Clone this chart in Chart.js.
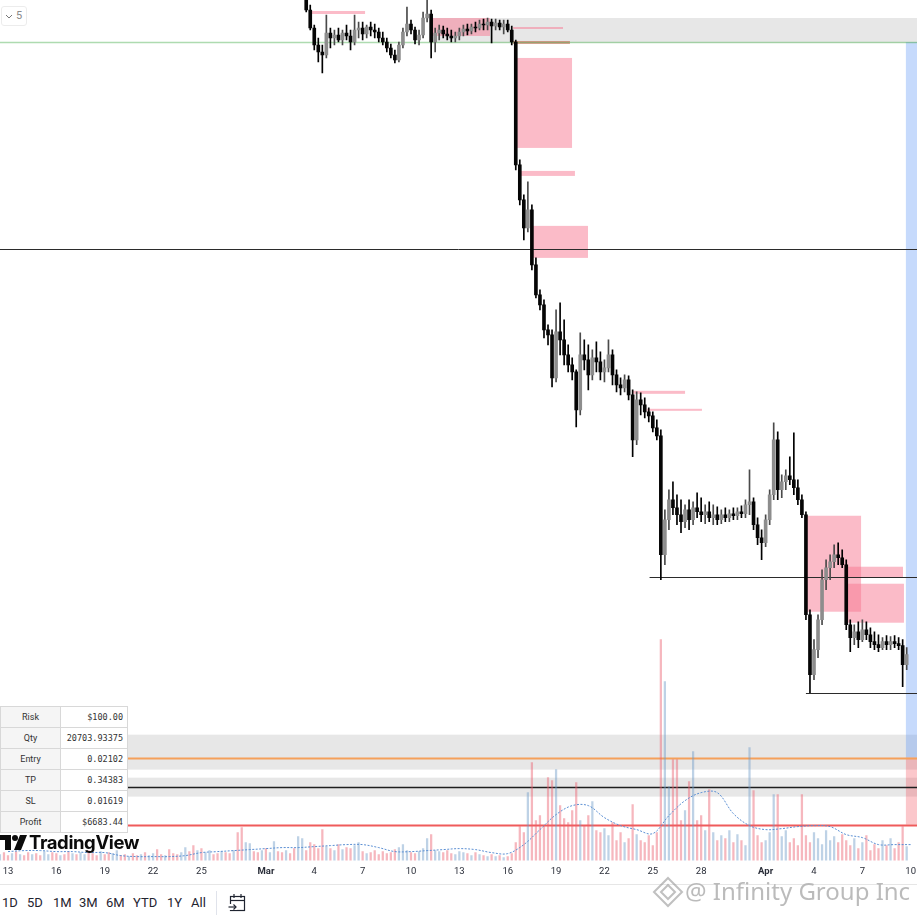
<!DOCTYPE html>
<html lang="en">
<head>
<meta charset="UTF-8">
<title>Chart</title>
<style>
    body {
        margin: 0;
        background: #fff;
        font-family: Roboto, Arial, sans-serif;
    }
    #wrap {
        position: relative;
        width: 917px;
        height: 917px;
        overflow: hidden;
    }
    #chartBox {
        position: absolute;
        left: 0;
        top: 0;
        width: 917px;
        height: 882px;
    }
    #interval {
        position: absolute;
        left: 1px;
        top: 6px;
        width: 24px;
        height: 18px;
        border: 1px solid #ececec;
        border-radius: 3px;
        font-size: 11px;
        color: #8a8a8a;
        background: #fff;
    }
    #interval span { position: absolute; left: 14px; top: 2px; }
    #interval svg { position: absolute; left: 3px; top: 7px; }
    #info {
        position: absolute;
        left: 0;
        top: 706px;
        border-collapse: collapse;
        background: #fff;
    }
    #info td {
        height: 20px;
        padding: 0 4px;
        border: 1px solid #d8d8d8;
        font-size: 9px;
        color: #333;
    }
    #info td.k { width: 51px; text-align: center; background: #f5f5f5; }
    #info td.v { width: 58px; text-align: right; font-family: "DejaVu Sans Mono", monospace; font-size: 8.5px; }
    #tvlogo {
        position: absolute;
        left: 0;
        top: 831px;
        height: 22px;
        background: rgba(255,255,255,0.7);
    }
    #tvlogo svg { position: absolute; left: 0; top: 4px; }
    #tvlogo span {
        position: absolute;
        left: 29px;
        top: 0;
        font-family: Inter, Lato, sans-serif;
        font-weight: 700;
        font-size: 18.5px;
        letter-spacing: -0.4px;
        color: #0b0b0b;
        white-space: nowrap;
    }
    #toolbar {
        position: absolute;
        left: 0;
        top: 884px;
        width: 917px;
        height: 33px;
        border-top: 1px solid #e6e6e6;
        background: #fff;
    }
    #toolbar span {
        position: absolute;
        top: 10px;
        font-size: 13px;
        color: #1f2430;
    }
    #toolbar .sep { position: absolute; left: 216px; top: 6px; width: 1px; height: 24px; background: #e0e3eb; }
    #toolbar svg { position: absolute; left: 228px; top: 8px; }
    #mark {
        position: absolute;
        left: 652px;
        top: 874px;
        height: 36px;
        white-space: nowrap;
    }
    #mark svg { position: absolute; left: 0; top: 2px; }
    #mark span {
        position: absolute;
        left: 33px;
        top: 0;
        font-family: "Noto Sans", sans-serif;
        font-size: 24px;
        color: rgba(120,120,120,0.5);
        text-shadow: 0 0 1px rgba(255,255,255,0.9);
    }
</style>
</head>
<body>
<div id="wrap">
    <div id="chartBox"><canvas id="chart"></canvas></div>

    <div id="interval">
        <svg width="8" height="5"><polyline points="1,1 4,4 7,1" fill="none" stroke="#777" stroke-width="1"/></svg>
        <span>5</span>
    </div>

    <table id="info">
        <tr><td class="k">Risk</td><td class="v">$100.00</td></tr>
        <tr><td class="k">Qty</td><td class="v">20703.93375</td></tr>
        <tr><td class="k">Entry</td><td class="v">0.02102</td></tr>
        <tr><td class="k">TP</td><td class="v">0.34383</td></tr>
        <tr><td class="k">SL</td><td class="v">0.01619</td></tr>
        <tr><td class="k">Profit</td><td class="v">$6683.44</td></tr>
    </table>

    <div id="tvlogo">
        <svg width="28" height="15" viewBox="0 0 28 15">
            <path d="M0 0 H11 V15 H5 V5 H0 Z" fill="#0b0b0b"/>
            <circle cx="15" cy="3" r="3" fill="#0b0b0b"/>
            <path d="M20 0 H27 L21 15 H14 Z" fill="#0b0b0b"/>
        </svg>
        <span>TradingView</span>
    </div>

    <div id="toolbar">
        <span style="left:2px">1D</span>
        <span style="left:27px">5D</span>
        <span style="left:53px">1M</span>
        <span style="left:79px">3M</span>
        <span style="left:106px">6M</span>
        <span style="left:133px">YTD</span>
        <span style="left:167px">1Y</span>
        <span style="left:191px">All</span>
        <div class="sep"></div>
        <svg width="18" height="20" viewBox="0 0 18 20">
            <rect x="2.5" y="3.5" width="14" height="14" fill="none" stroke="#1f2430" stroke-width="1.2"/>
            <line x1="2.5" y1="7.5" x2="16.5" y2="7.5" stroke="#1f2430" stroke-width="1.2"/>
            <line x1="6" y1="1" x2="6" y2="5" stroke="#1f2430" stroke-width="1.2"/>
            <line x1="13" y1="1" x2="13" y2="5" stroke="#1f2430" stroke-width="1.2"/>
            <rect x="0" y="11" width="9" height="6" fill="#fff"/>
            <line x1="0.5" y1="14" x2="8" y2="14" stroke="#1f2430" stroke-width="1.2"/>
            <polyline points="5.5,11.5 8,14 5.5,16.5" fill="none" stroke="#1f2430" stroke-width="1.2"/>
        </svg>
    </div>

    <div id="mark">
        <svg width="32" height="32" viewBox="0 0 32 32">
            <g fill="none" stroke="rgba(140,140,140,0.55)" stroke-width="2">
                <path d="M16 2 L30 16 L16 30 L2 16 Z"/>
                <path d="M16 9 L23 16 L16 23 L9 16 Z"/>
            </g>
        </svg>
        <span>@ Infinity Group Inc</span>
    </div>
</div>

<script src="https://cdn.jsdelivr.net/npm/chart.js@4"></script>
<script>
    // time axis: days counted from Feb 13
    const tickDays   = [0, 3, 6, 9, 12, 16, 19, 22, 25, 28, 31, 34, 37, 40, 43, 47, 50, 53, 56];
    const tickLabels = ['13', '16', '19', '22', '25', 'Mar', '4', '7', '10', '13', '16', '19', '22', '25', '28', 'Apr', '4', '7', '10'];
    const monthLabels = ['Mar', 'Apr'];

    const barsPerDay = 4;        // 6h candles
    const candleStartDay = 18.5; // first visible candle
    const volStartDay = -0.5;

    // price in 1/10000 units (no price axis is shown)
    const open = [
        910,890,872,855,848,845,867,862,865,860, 867,864,858,870,872,866,873,870,868,862,
        858,852,845,840,855,868,876,870,860,865, 882,886,858,867,870,866,864,862,864,868,
        871,869,873,872,876,875,878,874,877,873, 876,870,858,735,700,672,690,635,605,595,
        570,565,522,568,560,545,535,528,490,545, 540,525,542,538,528,532,545,525,515,512,
        520,505,460,500,495,488,484,472,464,345, 380,400,392,385,378,390,380,392,388,385,
        388,382,385,380,385,382,386,384,388,386, 395,398,375,362,357,380,405,460,410,418,
        424,420,412,400,385,285,225,250,280,320, 332,338,345,342,335,275,262,268,260,270,
        265,258,255,252,258,255,258,256,254,235
    ];
    const high = [
        920,895,875,862,855,885,872,870,872,870, 875,870,885,878,878,875,878,876,872,868,
        862,856,850,858,872,893,880,873,870,888, 900,890,872,875,874,872,870,868,872,875,
        876,876,878,880,881,882,881,881,880,880, 880,874,860,740,705,718,695,642,610,600,
        575,570,590,597,580,555,542,530,567,560, 555,550,558,548,540,560,550,530,522,525,
        524,510,508,507,502,492,488,480,470,390, 410,418,405,400,395,400,398,407,402,395,
        398,395,393,390,392,390,392,392,394,400, 430,402,382,370,385,410,477,468,425,430,
        443,467,420,405,388,290,260,285,330,340, 345,355,357,350,340,280,275,278,280,278,
        272,268,265,262,264,263,264,262,260,252
    ];
    const low = [
        888,870,850,838,827,842,852,855,858,855, 860,850,855,862,860,862,864,862,858,855,
        848,842,837,838,852,864,866,856,855,862, 878,842,848,860,862,860,858,858,860,864,
        865,866,868,870,870,870,857,870,870,866, 868,855,730,695,660,668,630,602,590,562,
        555,513,518,545,535,528,520,473,485,530, 510,520,528,520,518,528,515,508,505,508,
        500,443,455,485,482,478,468,460,320,335, 370,385,375,367,372,370,375,382,378,376,
        378,375,375,376,378,378,380,380,382,382, 385,370,355,340,353,375,400,400,402,410,
        415,405,395,382,280,207,220,242,275,310, 320,332,335,332,270,248,255,252,258,260,
        252,250,248,250,250,250,252,250,213,230
    ];
    const close = [
        890,872,855,848,845,867,862,865,860,867, 864,858,870,872,866,873,870,868,862,858,
        852,845,840,855,868,876,870,860,865,882, 886,858,867,870,866,864,862,864,868,871,
        869,873,872,876,875,878,874,877,873,876, 870,858,735,700,672,690,635,605,595,570,
        565,522,568,560,545,535,528,490,545,540, 525,542,538,528,532,545,525,515,512,520,
        505,460,500,495,488,484,472,464,345,380, 400,392,385,378,390,380,392,388,385,388,
        382,385,380,385,382,386,384,388,386,395, 398,375,362,357,380,405,460,410,418,424,
        420,412,400,385,285,225,250,280,320,332, 338,345,342,335,275,262,268,260,270,265,
        258,255,252,258,255,258,256,254,235,245
    ];

    // volume, 6h bars from Feb 12 12:00
    const volume = [
        6,8,5,7,9,6,5,8,6,7, 5,9,6,8,7,5,6,9,7,6, 8,6,10,7,5,9,6,8,7,10,
        5,6,4,7,5,6,8,5,7,11, 6,5,11,7,6,8,13,9,15,10, 12,8,10,6,7,9,8,7,10,28,
        33,18,17,9,8,10,12,8,19,9, 8,10,7,12,24,22,10,18,16,12, 31,14,12,10,16,11,13,12,15,18,
        9,7,8,10,6,9,7,8,11,13, 16,10,8,7,9,12,22,26,10,9, 8,10,7,6,9,8,7,5,8,6,
        5,4,6,4,5,3,4,7,18,34, 28,68,98,40,45,35,83,80,91,55, 42,38,50,78,40,35,45,59,30,28,
        32,25,38,20,28,18,22,56,26,20, 18,25,15,28,221,179,74,101,101,40, 50,79,109,40,45,30,71,28,20,25,
        22,30,18,26,20,15,113,70,25,18, 20,28,66,66,24,30,18,22,15,66, 25,18,28,22,16,30,20,24,18,26,
        20,15,22,12,18,25,10,16,12,20, 15,22,12,18,34,14
    ];
    // up/down side of the volume bars that have no visible candle
    const earlySide = ('uddududdud' + 'duudduddud' + 'uudddudduu' + 'ddudduduud' +
                       'duddduuddu' + 'duudduddud' + 'duudduduud' + 'dudduu').split('');
    // volume moving average, one value per day from day 0
    const volMA = [
        9,10,10,9,9,8,8,5,4,4, 4,5,8,9,10,11,12,13,13,14,
        15,16,16,13,9,9,10,11,12,11, 8,7,16,31,46,55,55,43,35,31,
        27,45,60,68,68,47,35,31,32,34, 35,34,26,23,16,16,16
    ];

    // drawings on the price pane: [fromDay, toDay, topPrice, bottomPrice]
    const zones = [
        [18.73, 22.15, 889, 886],
        [26.18, 29.90, 882, 864],
        [31.33, 34.43, 873, 871],
        [31.58, 34.99, 842, 752],
        [31.82, 35.17, 729, 724],
        [32.51, 35.98, 674, 642],
        [38.71, 42.00, 509, 506],
        [39.64, 43.05, 491, 489],
        [49.44, 52.92, 384, 288],
        [52.11, 55.52, 333, 322],
        [52.11, 55.58, 316, 277]
    ];
    const darkZone = [31.33, 34.86, 859, 856];
    // gray bands: [topPrice, bottomPrice, fromDay]
    const bands = [[882, 857, 26.18], [165, 130, null], [122, 103, null]];
    // horizontal levels and the day they start from
    const levelPrices = [858, 651, 323, 207, 142, 113, 75];
    const levelFrom   = [null, null, 39.8, 49.5, null, null, null];
    // long position: start day, target, entry, stop
    const position = { from: 55.7, target: 858, entry: 142, stop: 75 };

    const levelColors = ['rgba(76,175,80,0.45)', '#2b2b2b', '#2b2b2b', '#2b2b2b', '#f5a05a', '#1e1e1e', '#ef5b5b'];
    const levelWidths = [1.5, 1, 1, 1, 2, 1.5, 2];

    const xMin = -0.496, xMax = 56.39;

    const candleDays = open.map((_, k) => candleStartDay + k / barsPerDay);
    const isUp = open.map((o, k) => close[k] >= o);

    const volColors = volume.map((_, j) => {
        const k = j - (candleStartDay - volStartDay) * barsPerDay;
        const up = k >= 0 ? isUp[k] : earlySide[j] === 'u';
        return up ? 'rgba(110,155,200,0.45)' : 'rgba(236,96,110,0.45)';
    });

    const overlay = {
        id: 'overlay',
        beforeDatasetsDraw(chart) {
            const { ctx, chartArea: a, scales } = chart;
            const px = d => scales.x.getPixelForValue(d);
            const py = p => scales.y.getPixelForValue(p);
            ctx.save();
            ctx.beginPath();
            ctx.rect(a.left, a.top, a.width, a.height);
            ctx.clip();

            bands.forEach(b => {
                const x0 = b[2] === null ? a.left : px(b[2]);
                ctx.fillStyle = 'rgba(0,0,0,0.095)';
                ctx.fillRect(x0, py(b[0]), a.right - x0, py(b[1]) - py(b[0]));
            });

            const pX = px(position.from);
            ctx.fillStyle = 'rgba(66,133,244,0.3)';
            ctx.fillRect(pX, py(position.target), a.right - pX, py(position.entry) - py(position.target));
            ctx.fillStyle = 'rgba(242,54,69,0.28)';
            ctx.fillRect(pX, py(position.entry), a.right - pX, py(position.stop) - py(position.entry));

            ctx.fillStyle = 'rgba(247,120,145,0.5)';
            zones.forEach(z => {
                ctx.fillRect(px(z[0]), py(z[2]), px(z[1]) - px(z[0]), py(z[3]) - py(z[2]));
            });
            ctx.fillStyle = 'rgba(205,95,75,0.6)';
            ctx.fillRect(px(darkZone[0]), py(darkZone[2]), px(darkZone[1]) - px(darkZone[0]), py(darkZone[3]) - py(darkZone[2]));

            levelPrices.forEach((p, i) => {
                const x0 = levelFrom[i] === null ? a.left : px(levelFrom[i]);
                const yy = Math.round(py(p)) + 0.5;
                ctx.strokeStyle = levelColors[i];
                ctx.lineWidth = levelWidths[i];
                ctx.beginPath();
                ctx.moveTo(x0, yy);
                ctx.lineTo(a.right, yy);
                ctx.stroke();
            });
            ctx.restore();
        }
    };

    Chart.defaults.font.family = 'Roboto';

    new Chart(document.getElementById('chart'), {
        type: 'bar',
        data: {
            datasets: [
                {
                    label: 'wick',
                    data: candleDays.map((d, k) => ({ x: d, y: [low[k], high[k]] })),
                    backgroundColor: isUp.map(u => u ? '#4a4a4a' : '#000'),
                    barThickness: 1,
                    grouped: false,
                    order: 1
                },
                {
                    label: 'body',
                    data: candleDays.map((d, k) => ({ x: d, y: [open[k], close[k]] })),
                    backgroundColor: isUp.map(u => u ? '#8d8d8d' : '#050505'),
                    barThickness: 3,
                    minBarLength: 1,
                    grouped: false,
                    order: 0
                },
                {
                    label: 'volume',
                    data: volume.map((v, j) => ({ x: volStartDay + j / barsPerDay, y: v })),
                    backgroundColor: volColors,
                    barThickness: 1.6,
                    grouped: false,
                    yAxisID: 'yv',
                    order: 4
                },
                {
                    type: 'line',
                    label: 'volume MA',
                    data: volMA.map((v, d) => ({ x: d, y: v })),
                    borderColor: '#5b8fd3',
                    borderWidth: 1,
                    borderDash: [2, 1.5],
                    pointRadius: 0,
                    tension: 0.35,
                    yAxisID: 'yv',
                    order: 3
                }
            ]
        },
        options: {
            responsive: true,
            maintainAspectRatio: false,
            animation: false,
            layout: { padding: 0 },
            plugins: {
                legend: { display: false },
                tooltip: { enabled: false }
            },
            scales: {
                x: {
                    type: 'linear',
                    min: xMin,
                    max: xMax,
                    offset: false,
                    grid: { display: false, drawTicks: false },
                    border: { display: false },
                    afterBuildTicks: axis => { axis.ticks = tickDays.map(v => ({ value: v })); },
                    // let the edge labels overhang instead of shrinking the plot
                    afterFit: axis => { axis.paddingLeft = 0; axis.paddingRight = 0; },
                    ticks: {
                        autoSkip: false,
                        maxRotation: 0,
                        padding: 5,
                        color: '#2a2e39',
                        font: c => ({
                            size: 9.5,
                            weight: c.tick && monthLabels.includes(tickLabels[tickDays.indexOf(c.tick.value)]) ? 'bold' : 'normal'
                        }),
                        callback: v => tickLabels[tickDays.indexOf(v)]
                    }
                },
                y: { display: false, min: 39, max: 900 },
                yv: { display: false, min: 0, max: 861 }
            }
        },
        plugins: [overlay]
    });
</script>
</body>
</html>
